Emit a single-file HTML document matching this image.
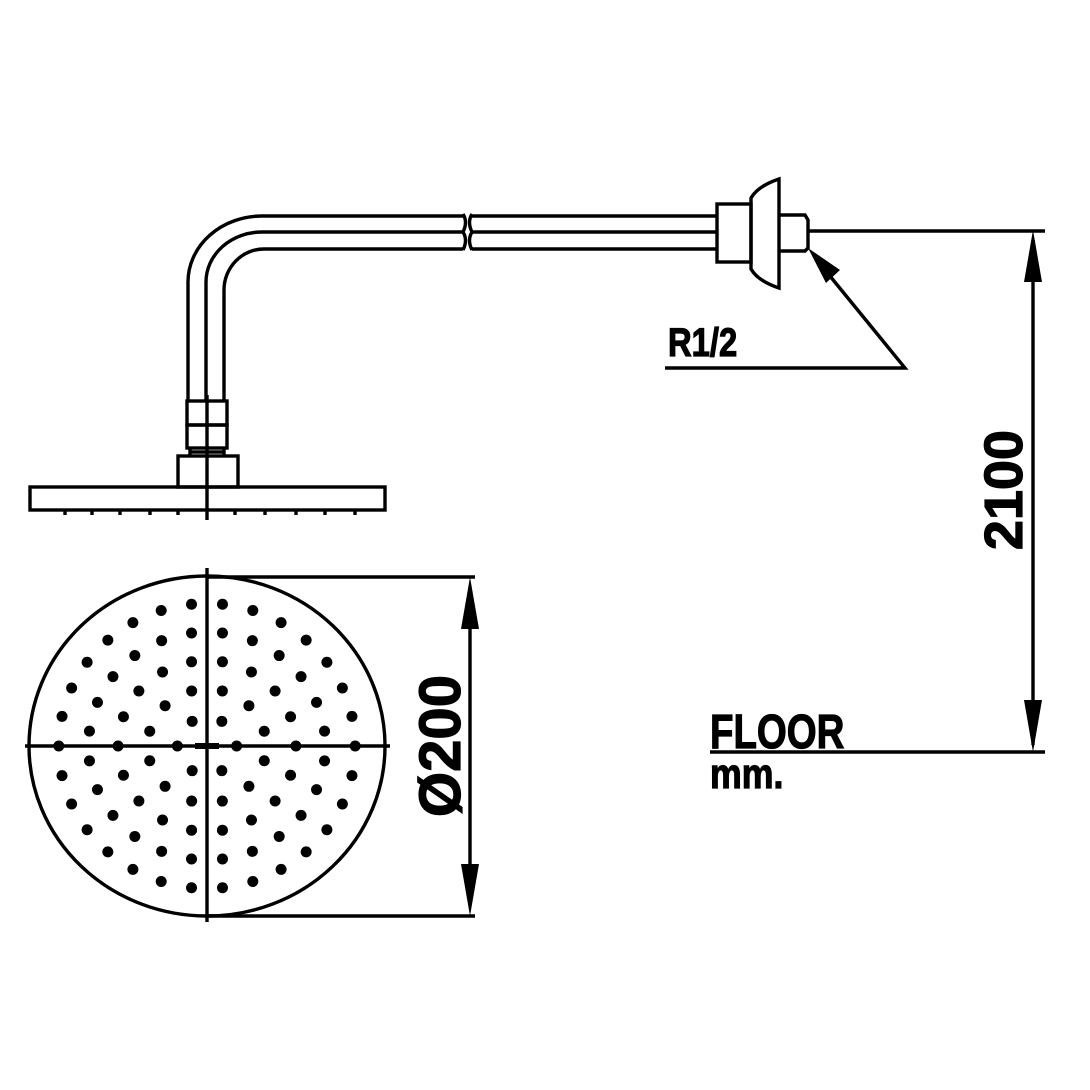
<!DOCTYPE html>
<html><head><meta charset="utf-8"><style>html,body{margin:0;padding:0;background:#fff}svg{display:block}</style></head>
<body>
<svg id="s" width="1090" height="1090" viewBox="0 0 1090 1090" xmlns="http://www.w3.org/2000/svg" font-family="Liberation Sans, sans-serif" font-weight="bold">
<rect width="1090" height="1090" fill="#fff"/>
<g fill="none" stroke="#000" stroke-width="3.4">
<path d="M188 401 V282 A74 66 0 0 1 262 216 H463"/>
<path d="M206 401 V282 A56 50 0 0 1 262 232 H463"/>
<path d="M224 401 V290 A40 41 0 0 1 264 249 H463"/>
<path d="M463 214 Q468 222 463 232 Q468 240 463 250"/>
<path d="M472 214 Q467 222 472 232 Q467 240 472 250"/>
<path d="M472 216 H717 M472 232 H717 M472 249 H717"/>
<rect x="717" y="204" width="34" height="58"/>
<path d="M751 198 Q758 186 779 179 V288 Q758 281 751 269 Z"/>
<path d="M779 215 H805 L808 220 V248 L805 251 H779"/>
<path d="M808 231 H1045"/>
<rect x="187" y="401" width="40" height="24"/>
<rect x="187" y="425" width="40" height="23"/>
<path d="M190 448 V456 M224 448 V456 M190 452 H224"/>
<rect x="178" y="456" width="60" height="31"/>
<rect x="30" y="487" width="355" height="23"/>
<path d="M207 395 V520"/>
<path d="M65 510 V515 M92 510 V515 M120 510 V515 M150 510 V515 M178 510 V515 M235 510 V515 M265 510 V515 M296 510 V515 M325 510 V515 M355 510 V515"/>
<path d="M665 368 H905 L825 270"/>
<path d="M1033 240 V745"/>
<path d="M710 752 H1045"/>
<ellipse cx="207" cy="746" rx="178" ry="170"/>
<path d="M25 746 H390 M207 568 V922"/>
<path d="M207 577 H475 M207 916 H475 M470 590 V905"/>
</g>
<g fill="#000">
<polygon points="808,248 840,270 826,283"/>
<polygon points="1033,230 1024,282 1042,282"/>
<polygon points="1033,752 1024,700 1042,700"/>
<polygon points="470,577 461,629 479,629"/>
<polygon points="470,916 461,864 479,864"/>
<rect x="195" y="743" width="24" height="6"/>
</g>
<g id="dots" fill="#000"></g>
<g stroke="#000" stroke-width="1.2">
<text transform="translate(668,356) scale(0.82,1)" font-size="40">R1/2</text>
<text transform="translate(710,748) scale(0.8,1)" font-size="48">FLOOR</text>
<text transform="translate(710,788) scale(0.85,1)" font-size="42">mm.</text>
<text transform="translate(1022,490) rotate(-90)" text-anchor="middle" font-size="54">2100</text>
<text transform="translate(460,746) rotate(-90)" text-anchor="middle" font-size="58">Ø200</text>
</g>
</svg>
<script>
var g=document.getElementById('dots'),ns='http://www.w3.org/2000/svg';
function d(x,y){var c=document.createElementNS(ns,'circle');c.setAttribute('cx',x);c.setAttribute('cy',y);c.setAttribute('r',5.5);g.appendChild(c);}
for(var k=1;k<=5;k++){var n=6*k;var off=(k%2)?0:Math.PI/n;for(var i=0;i<n;i++){var a=off+i*2*Math.PI/n;var r=28.5*k;d(207+1.04*r*Math.cos(a),746+r*Math.sin(a));}}
</script>
</body></html>
